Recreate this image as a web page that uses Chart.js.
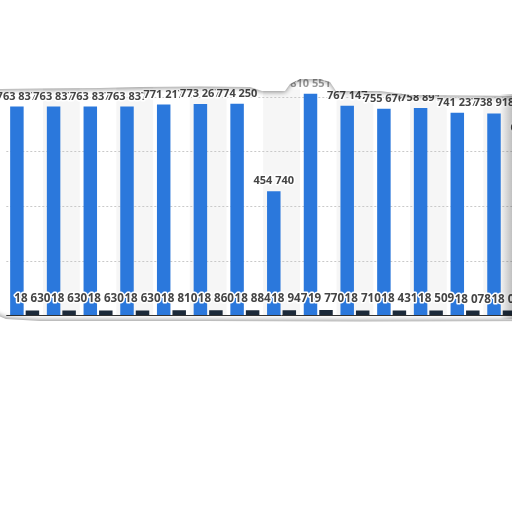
<!DOCTYPE html>
<html><head><meta charset="utf-8">
<script src="https://cdn.jsdelivr.net/npm/chart.js@4.4.0/dist/chart.umd.min.js"></script>
<style>
html,body{margin:0;padding:0;overflow:hidden;background:#fff;width:512px;height:512px}
#wrap{position:absolute;left:0;top:0;width:560px;height:512px}
</style>
</head><body>
<div id="wrap"><canvas id="c" width="560" height="512"></canvas></div>
<script>
const categories = ['1','2','3','4','5','6','7','8','9','10','11','12','13','14','15'];
const blueValues = [763837,763837,763837,763837,771217,773267,774250,454740,810551,767147,755676,758891,741237,738918,650000];
const darkValues = [18630,18630,18630,18630,18810,18860,18884,18947,19770,18710,18431,18509,18078,18050,18000];
const yTicks = [0,200000,400000,600000,800000,1000000];

const BLUE = '#2b78dc';
const DARK = '#1c2a3a';

function fmt(v){ return String(v).replace(/\B(?=(\d{3})+(?!\d))/g,' '); }

const backPlugin = {
  id:'back',
  beforeDatasetsDraw(chart){
    const {ctx, chartArea:a, scales:{x:xs, y:ys}} = chart;
    const w = xs.getPixelForValue(1) - xs.getPixelForValue(0);
    const base = ys.getPixelForValue(0);
    ctx.save();
    ctx.fillStyle = '#f6f6f6';
    categories.forEach((c,i)=>{
      if(i % 2 === 1){
        const cx = xs.getPixelForValue(i);
        ctx.fillRect(cx - w/2, 0, w, base);
      }
    });
    ctx.strokeStyle = '#c9c9c9';
    ctx.lineWidth = 1;
    ctx.setLineDash([2,2]);
    yTicks.forEach(t=>{
      if(t===0) return;
      const y = Math.round(ys.getPixelForValue(t)) + 0.5;
      ctx.beginPath(); ctx.moveTo(a.left, y); ctx.lineTo(a.right, y); ctx.stroke();
    });
    ctx.restore();
  },
  afterDatasetsDraw(chart){
    const {ctx, chartArea:a, scales:{y:ys}} = chart;
    ctx.save();
    const y = Math.round(ys.getPixelForValue(0)) - 0.5;
    ctx.strokeStyle = '#333';
    ctx.lineWidth = 1;
    ctx.beginPath(); ctx.moveTo(a.left, y); ctx.lineTo(a.right, y); ctx.stroke();
    // data labels
    ctx.textAlign = 'center';
    ctx.textBaseline = 'alphabetic';
    ctx.lineJoin = 'round';
    [0,1].forEach(di=>{
      const meta = chart.getDatasetMeta(di);
      const vals = chart.data.datasets[di].data;
      const off = di===0 ? 7 : 8;
      ctx.font = di===0 ? 'bold 11px "Open Sans"' : 'bold 11.6px "Open Sans"';
      meta.data.forEach((bar,i)=>{
        const t = fmt(vals[i]);
        ctx.strokeStyle = '#fff';
        ctx.lineWidth = 3;
        ctx.strokeText(t, bar.x, bar.y - off);
        ctx.fillStyle = '#454545';
        ctx.fillText(t, bar.x, bar.y - off);
      });
    });
    ctx.restore();
  },
  afterDraw(chart){
    const ctx = chart.ctx;
    ctx.save();
    // faded label region under the tear
    ctx.fillStyle = 'rgba(255,255,255,0.45)';
    ctx.fillRect(288, 76, 46, 14);
    // top torn edge
    const top = [[-10,89],[40,88.5],[100,88],[140,87],[200,86.5],[250,87],[262,91],[285,91],[290,84],[300,79],[320,79],[330,82],[336,91],[380,91],[395,93],[410,95],[470,95.5],[520,96],[600,96]];
    ctx.shadowColor = 'rgba(0,0,0,0.45)';
    ctx.shadowBlur = 5;
    ctx.shadowOffsetY = 1;
    ctx.fillStyle = '#fff';
    ctx.beginPath();
    ctx.moveTo(-20,-20); ctx.lineTo(620,-20);
    for(let k=top.length-1;k>=0;k--) ctx.lineTo(top[k][0], top[k][1]);
    ctx.lineTo(-20, top[0][1]);
    ctx.closePath(); ctx.fill();
    // bottom torn edge
    const bot = [[-10,312],[6,319],[40,321],[200,321],[360,321.5],[600,321]];
    ctx.shadowOffsetY = -1;
    ctx.beginPath();
    ctx.moveTo(-20,620);
    bot.forEach(p=>ctx.lineTo(p[0],p[1]));
    ctx.lineTo(620,620);
    ctx.closePath(); ctx.fill();
    ctx.restore();
    // right edge shading
    ctx.save();
    const g = ctx.createLinearGradient(500,0,512,0);
    g.addColorStop(0,'rgba(0,0,0,0)');
    g.addColorStop(1,'rgba(0,0,0,0.22)');
    ctx.fillStyle = g;
    ctx.fillRect(500, 94, 12, 225);
    ctx.restore();
  }
};

new Chart(document.getElementById('c'), {
  type:'bar',
  data:{
    labels: categories,
    datasets:[
      {data: blueValues, backgroundColor: BLUE, borderWidth:0, categoryPercentage:0.845, barPercentage:0.87},
      {data: darkValues, backgroundColor: DARK, borderWidth:0, categoryPercentage:0.845, barPercentage:0.87}
    ]
  },
  options:{
    responsive:false,
    animation:false,
    layout:{padding:{left:6.3, right:3.2, top:42, bottom:196.5}},
    plugins:{legend:{display:false}, tooltip:{enabled:false}},
    scales:{
      x:{display:false},
      y:{display:false, min:0, max:1000000}
    }
  },
  plugins:[backPlugin]
});
</script>
</body></html>
